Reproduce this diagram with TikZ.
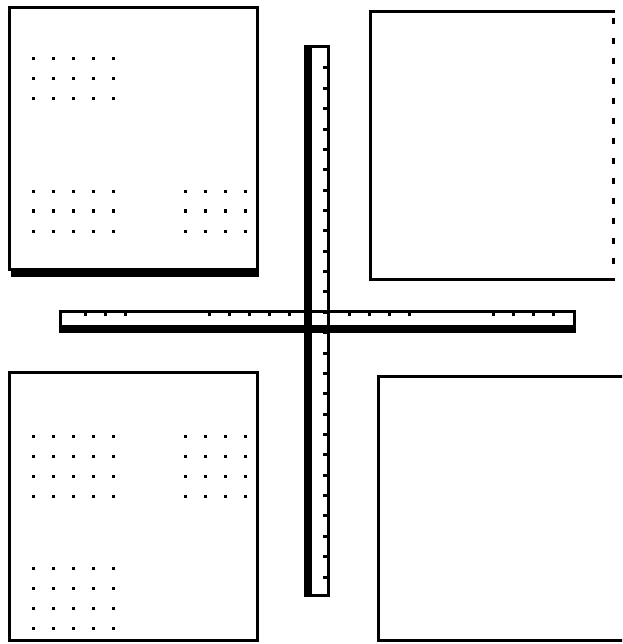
\documentclass[tikz,border=0pt]{standalone}
\usepackage{tikz}

\begin{document}
\begin{tikzpicture}[x=1pt, y=-1pt, line width=3pt,
  dot/.style={fill=black},
  tick/.style={fill=black}]
\useasboundingbox (0,0) rectangle (622,644);
\clip (0,0) rectangle (622,644);

% upper left panel with shadow
\draw (9.5,7.5) rectangle (257,269.5);
\fill (11,268) rectangle (258.5,277);
\foreach \col in {33,53,73,93,113} {
  \foreach \row in {59,79,99,192,211,231}
    \fill[dot] (\col-1.5,\row-1.5) rectangle ++(3,3);
}
\foreach \col in {185,205,225,245} {
  \foreach \row in {192,211,231}
    \fill[dot] (\col-1.5,\row-1.5) rectangle ++(3,3);
}

% upper right panel, dashed right side
\draw (615,11.5) -- (370,11.5) -- (370,279.5) -- (615,279.5);
\draw[dash pattern=on 6pt off 14pt] (613,18) -- (613,280);

% lower left panel
\draw (9.5,372.5) rectangle (257,640.5);
\foreach \col in {33,53,73,93,113} {
  \foreach \row in {436,456,476,496,568,588,608,628}
    \fill[dot] (\col-1.5,\row-1.5) rectangle ++(3,3);
}
\foreach \col in {185,205,225,245} {
  \foreach \row in {436,456,476,496}
    \fill[dot] (\col-1.5,\row-1.5) rectangle ++(3,3);
}

% lower right panel
\draw (640,376.5) -- (378.5,376.5) -- (378.5,640.5) -- (640,640.5);

% vertical bar
\draw (305.5,46.5) rectangle (328.5,595.5);
\fill (303.5,45) rectangle (312,597);
\foreach \k in {0,...,25}
  \fill[tick] (323,68+20.36*\k-1.5) rectangle ++(4,3);

% horizontal bar
\draw (60.5,311.5) rectangle (574.5,331);
\fill (59,325) rectangle (576,333);
\foreach \tx in {85,105,125,209,229,249,269,289,349,369,389,409,493,513,533,553}
  \fill[tick] (\tx-1.5,313) rectangle ++(3,3);
\end{tikzpicture}
\end{document}
